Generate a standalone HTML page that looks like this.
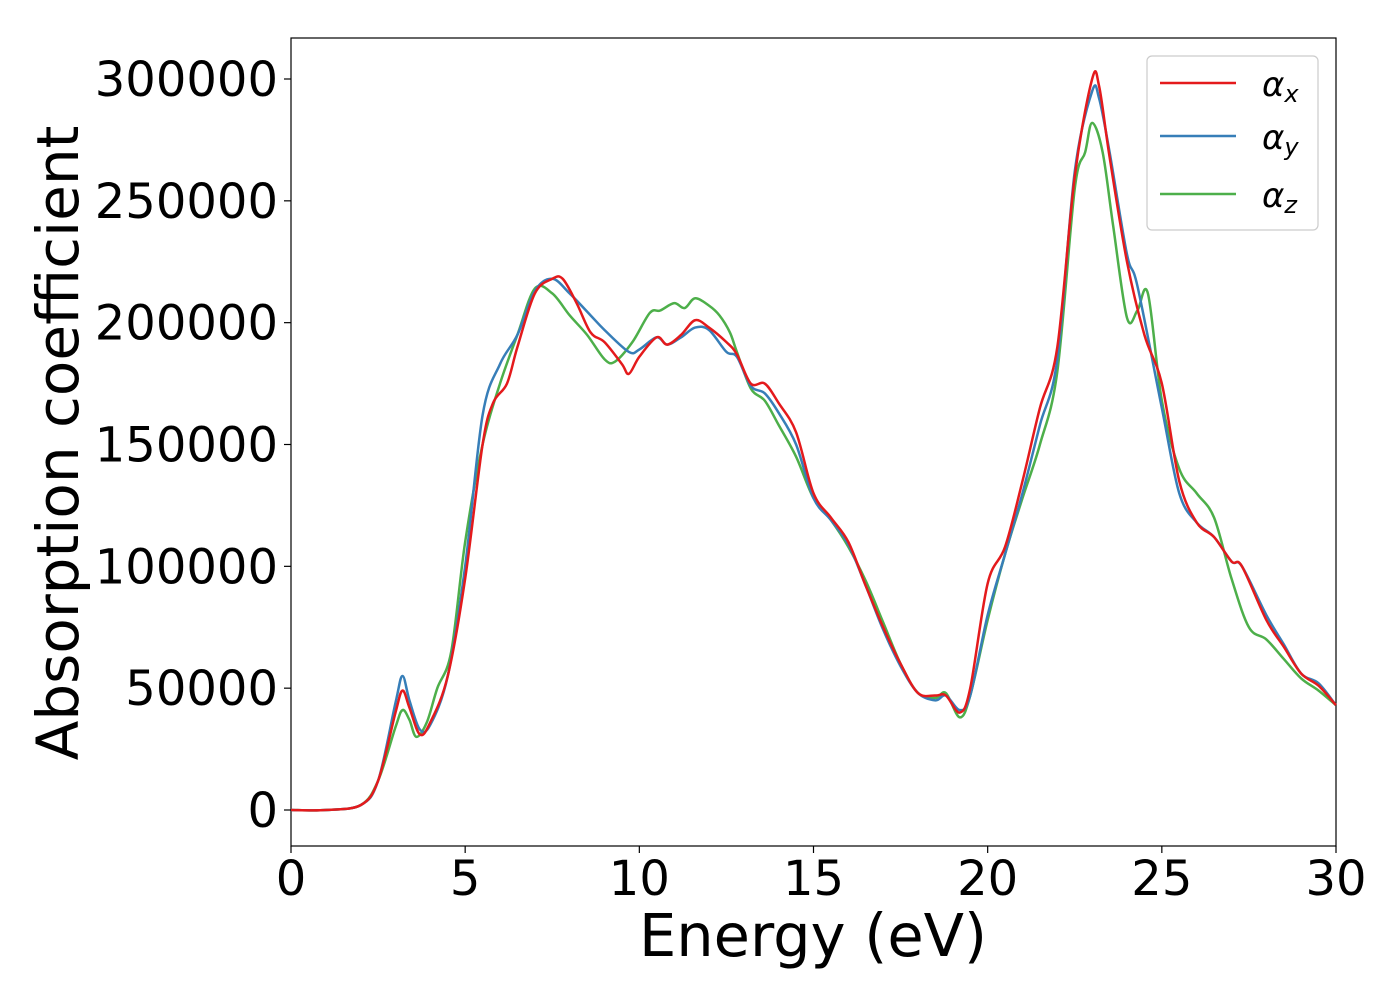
<!DOCTYPE html>
<html><head><meta charset="utf-8"><style>
body{margin:0;background:#fff;}
svg text{font-family:"DejaVu Sans","Liberation Sans",sans-serif;}
</style></head><body>
<svg id="c" width="1400" height="1000">
<rect x="291" y="38" width="1045" height="808" fill="none" stroke="#000" stroke-width="1.2"/>
<g id="ticks"></g>
<g id="series"></g>
<text x="813" y="956" font-size="59" text-anchor="middle">Energy (eV)</text>
<text transform="translate(78,443) rotate(-90)" font-size="58" text-anchor="middle">Absorption coefficient</text>
<g>
<rect x="1147" y="56" width="171" height="174" rx="5" fill="#fff" stroke="#ccc" stroke-width="1.2"/>
<line x1="1160" y1="83" x2="1236" y2="83" stroke="#e41a1c" stroke-width="2.5"/>
<text x="1262" y="96" font-size="34" font-style="italic">α<tspan font-size="24" dy="6">x</tspan></text>
<line x1="1160" y1="136" x2="1236" y2="136" stroke="#377eb8" stroke-width="2.5"/>
<text x="1262" y="149" font-size="34" font-style="italic">α<tspan font-size="24" dy="6">y</tspan></text>
<line x1="1160" y1="194" x2="1236" y2="194" stroke="#4daf4a" stroke-width="2.5"/>
<text x="1262" y="207" font-size="34" font-style="italic">α<tspan font-size="24" dy="6">z</tspan></text>
</g>
</svg>
<script>
const xTicks=[0,5,10,15,20,25,30];
const yTicks=[0,50000,100000,150000,200000,250000,300000];
const xsX=[0,1,2,2.5,3,3.2,3.4,3.7,4,4.5,5,5.5,5.8,6.2,6.5,7,7.5,7.8,8.2,8.6,9,9.5,9.7,10,10.5,10.8,11.2,11.6,12,12.5,12.8,13.2,13.6,14,14.5,15,15.5,16,16.5,17,17.5,18,18.5,18.8,19.2,19.5,20,20.5,21,21.5,22,22.5,23,23.2,23.5,24,24.5,25,25.5,26,26.5,27,27.3,28,28.5,29,29.5,30];
const alphaX=[0,0,2000,12000,40000,49000,42000,31000,36000,55000,95000,150000,167000,175000,190000,212000,218000,218000,208000,196000,192000,183000,179000,186000,194000,191000,195000,201000,198000,192000,187000,175000,175000,167000,155000,130000,120000,110000,92000,75000,60000,48000,47000,47000,40000,50000,93000,108000,135000,165000,190000,260000,300000,297000,268000,225000,195000,175000,135000,118000,112000,102000,100000,78000,67000,56000,51000,43000];
const xsY=[0,1,2,2.5,3,3.2,3.4,3.7,4,4.5,5,5.5,6,6.5,7,7.5,8,8.6,9,9.7,10,10.5,10.8,11.2,11.6,12,12.5,12.8,13.2,13.6,14,14.5,15,15.5,16,16.5,17,17.5,18,18.5,18.8,19.2,19.5,20,20.5,21,21.5,22,22.5,23,23.2,23.5,24,24.3,25,25.5,26,26.5,27,27.3,28,28.5,29,29.5,30];
const alphaY=[0,0,2000,12000,44000,55000,45000,33000,35000,55000,100000,162000,183000,195000,213000,218000,212000,203000,197000,188000,189000,194000,191000,194000,198000,197000,188000,186000,174000,171000,163000,150000,128000,119000,109000,92000,74000,59000,48000,45000,47000,41000,47000,80000,105000,130000,158000,185000,262000,295000,292000,270000,228000,215000,165000,130000,118000,112000,102000,100000,80000,68000,56000,52000,43000];
const xsZ=[0,1,2,2.5,3,3.2,3.4,3.6,3.9,4.2,4.6,5,5.5,6,6.5,7,7.5,8,8.5,9,9.3,9.8,10.3,10.6,11,11.3,11.6,12,12.3,12.6,12.8,13.2,13.6,14,14.5,15,15.5,16,16.5,17,17.5,18,18.5,18.8,19.2,19.5,20,20.5,21,21.5,22,22.5,22.8,23,23.3,23.6,24,24.3,24.6,25,25.5,26,26.5,27,27.5,28,28.5,29,29.5,30];
const alphaZ=[0,0,2000,12000,34000,41000,37000,30000,36000,50000,65000,110000,150000,175000,195000,214000,212000,203000,195000,185000,184000,192000,204000,205000,208000,206000,210000,207000,203000,196000,188000,173000,168000,158000,145000,128000,119000,108000,94000,77000,60000,48000,46000,48000,38000,47000,78000,105000,128000,150000,180000,255000,270000,282000,270000,240000,202000,205000,212000,168000,140000,130000,120000,95000,75000,70000,62000,54000,49000,43000];
const X0=291,X1=1336,Y0=810,Ypx=731/300000;
function sx(v){return X0+(X1-X0)*v/30;}
function sy(v){return Y0-v*Ypx;}
const NS="http://www.w3.org/2000/svg";
const tg=document.getElementById('ticks');
function mk(tag,a,parent){const e=document.createElementNS(NS,tag);for(const k in a)e.setAttribute(k,a[k]);parent.appendChild(e);return e;}
xTicks.forEach(t=>{
 const l=mk('line',{x1:sx(t),x2:sx(t),y1:846,y2:853,stroke:'#000','stroke-width':1.2},tg);
 
 
 const tx=mk('text',{x:sx(t),y:895,'font-size':48,'text-anchor':'middle'},tg);tx.textContent=t;
 
 
});
yTicks.forEach(t=>{
 const l=mk('line',{x1:284,x2:291,y1:sy(t),y2:sy(t),stroke:'#000','stroke-width':1.2},tg);
 
 
 const tx=mk('text',{x:278,y:sy(t)+17,'font-size':48,'text-anchor':'end'},tg);tx.textContent=t;
 
 
});
function path(xs,ys){
 const p=xs.map((x,i)=>[sx(x),sy(ys[i])]);
 let d='M'+p[0][0]+','+p[0][1];
 for(let i=0;i<p.length-1;i++){
  const a=p[i-1]||p[i],b=p[i],c=p[i+1],e=p[i+2]||c;
  d+=' C'+(b[0]+(c[0]-a[0])/6)+','+(b[1]+(c[1]-a[1])/6)+' '+(c[0]-(e[0]-b[0])/6)+','+(c[1]-(e[1]-b[1])/6)+' '+c[0]+','+c[1];
 }
 return d;
}
const sg=document.getElementById('series');
[[xsZ,alphaZ,'#4daf4a','series-alpha-z'],[xsY,alphaY,'#377eb8','series-alpha-y'],[xsX,alphaX,'#e41a1c','series-alpha-x']].forEach(s=>{
 const e=mk('path',{d:path(s[0],s[1]),fill:'none',stroke:s[2],'stroke-width':2.5},sg);
 
 
});
</script>
</body></html>
